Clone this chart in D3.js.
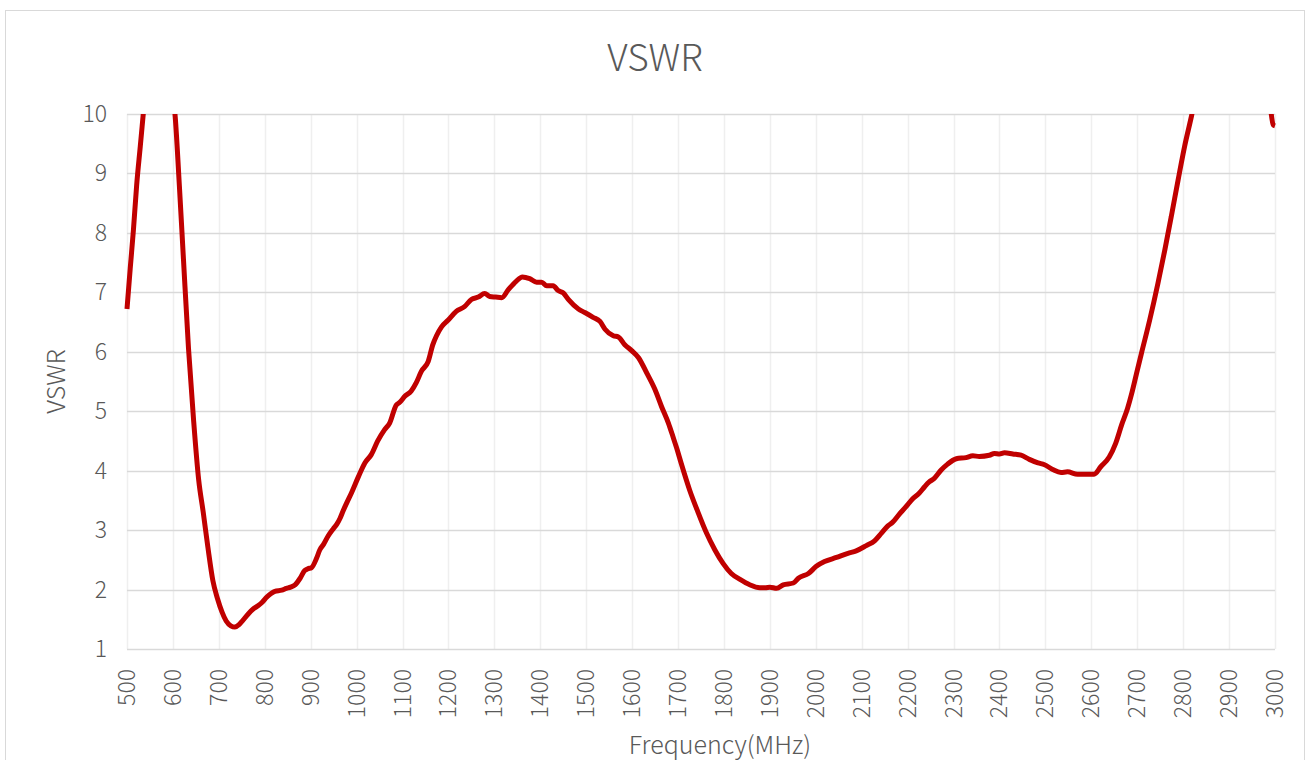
<!DOCTYPE html>
<html lang="en">
	<head>
		<meta charset="utf-8">
		<title>VSWR</title>
		<script type="text/javascript" src="https://cdn.jsdelivr.net/npm/d3@7"></script>
		<style type="text/css">
			body { margin: 0; background: #fff; }
			text { font-family: "Noto Sans CJK SC", "Liberation Sans", sans-serif; font-weight: 300; fill: #595959; }
		</style>
	</head>
	<body>
		<script type="text/javascript">

			//Data (values above 10 are clipped by the axis)
			var freq = [500, 507, 514, 521, 529, 536, 545, 560, 575, 590, 600, 605, 614, 623, 634, 645, 656, 666, 676, 687,
						697, 707, 716, 726, 735, 744, 750, 764, 776, 786, 795, 804, 813, 822, 837, 847, 856, 866, 877, 887,
						894, 902, 913, 920, 928, 938, 949, 957, 964, 971, 978, 989, 1004, 1018, 1032, 1046, 1061, 1072, 1086, 1094,
						1105, 1119, 1130, 1141, 1156, 1166, 1174, 1185, 1199, 1217, 1235, 1250, 1265, 1279, 1290, 1303, 1316, 1330, 1348, 1361,
						1377, 1392, 1403, 1414, 1428, 1439, 1450, 1461, 1483, 1497, 1515, 1530, 1541, 1559, 1570, 1584, 1599, 1614, 1632, 1650,
						1664, 1679, 1689, 1697, 1707, 1725, 1743, 1762, 1780, 1798, 1816, 1835, 1856, 1878, 1890, 1900, 1915, 1929, 1951, 1962,
						1984, 2001, 2019, 2045, 2070, 2088, 2110, 2128, 2143, 2157, 2167, 2182, 2196, 2210, 2225, 2237, 2247, 2258, 2273, 2287,
						2306, 2327, 2342, 2356, 2378, 2389, 2400, 2411, 2429, 2447, 2465, 2484, 2498, 2516, 2534, 2548, 2570, 2588, 2606, 2621,
						2639, 2653, 2666, 2679, 2688, 2698, 2709, 2727, 2745, 2760, 2774, 2789, 2803, 2818, 2830, 2860, 2900, 2940, 2970, 2990,
						2996, 3000];
			var vswr = [6.72, 7.4, 8.05, 8.8, 9.46, 10.05, 10.8, 11.6, 11.8, 11.3, 10.35, 9.95, 8.8, 7.55, 6.05, 4.85, 3.85, 3.3, 2.72, 2.15,
						1.85, 1.62, 1.47, 1.39, 1.37, 1.41, 1.46, 1.59, 1.68, 1.73, 1.79, 1.87, 1.93, 1.97, 1.99, 2.02, 2.04, 2.08, 2.19, 2.32,
						2.35, 2.37, 2.53, 2.67, 2.76, 2.9, 3.02, 3.1, 3.2, 3.33, 3.45, 3.63, 3.9, 4.13, 4.27, 4.5, 4.69, 4.8, 5.1, 5.15,
						5.25, 5.34, 5.48, 5.67, 5.84, 6.12, 6.27, 6.42, 6.53, 6.68, 6.76, 6.88, 6.92, 6.98, 6.93, 6.92, 6.91, 7.04, 7.19, 7.26,
						7.23, 7.17, 7.17, 7.11, 7.11, 7.03, 6.99, 6.88, 6.72, 6.66, 6.58, 6.51, 6.38, 6.27, 6.25, 6.12, 6.02, 5.9, 5.64, 5.36,
						5.08, 4.8, 4.57, 4.38, 4.12, 3.68, 3.31, 2.95, 2.67, 2.44, 2.27, 2.17, 2.08, 2.03, 2.03, 2.04, 2.02, 2.08, 2.11, 2.19,
						2.27, 2.39, 2.47, 2.54, 2.61, 2.65, 2.74, 2.82, 2.95, 3.07, 3.13, 3.27, 3.39, 3.52, 3.62, 3.73, 3.81, 3.87, 4.01, 4.11,
						4.2, 4.22, 4.25, 4.24, 4.26, 4.29, 4.28, 4.3, 4.28, 4.26, 4.19, 4.13, 4.1, 4.02, 3.97, 3.98, 3.94, 3.94, 3.94, 4.07,
						4.23, 4.46, 4.77, 5.05, 5.3, 5.62, 5.97, 6.53, 7.15, 7.71, 8.27, 8.89, 9.45, 9.96, 10.4, 11.1, 11.5, 11.4, 10.9, 10.1,
						9.82, 9.8];
			var xTicks = d3.range(500, 3001, 100);
			var yTicks = [1, 2, 3, 4, 5, 6, 7, 8, 9, 10];

			var dataset = freq.map(function(f, i) { return { f: f, v: vswr[i] }; });

			//Width and height
			var w = 1307;
			var h = 760;
			var plotLeft = 127, plotRight = 1275, plotTop = 114, plotBottom = 649;

			var xScale = d3.scaleLinear()
						.domain([500, 3000])
						.range([plotLeft, plotRight]);

			var yScale = d3.scaleLinear()
						.domain([1, 10])
						.range([plotBottom, plotTop]);

			//Create SVG element
			var svg = d3.select("body")
						.append("svg")
						.attr("width", w)
						.attr("height", h);

			//Chart frame
			svg.append("rect")
			   .attr("x", 5.5)
			   .attr("y", 10.5)
			   .attr("width", 1299)
			   .attr("height", 760)
			   .attr("fill", "white")
			   .attr("stroke", "#d9d9d9");

			//Vertical gridlines
			svg.append("g")
			   .selectAll("line")
			   .data(xTicks)
			   .enter()
			   .append("line")
			   .attr("x1", function(d) { return Math.round(xScale(d)) + 0.5; })
			   .attr("x2", function(d) { return Math.round(xScale(d)) + 0.5; })
			   .attr("y1", plotTop)
			   .attr("y2", plotBottom)
			   .attr("stroke", "#efefef")
			   .attr("stroke-width", 1.5);

			//Horizontal gridlines
			svg.append("g")
			   .selectAll("line")
			   .data(yTicks)
			   .enter()
			   .append("line")
			   .attr("x1", plotLeft)
			   .attr("x2", plotRight)
			   .attr("y1", function(d) { return Math.round(yScale(d)) + 0.5; })
			   .attr("y2", function(d) { return Math.round(yScale(d)) + 0.5; })
			   .attr("stroke", "#d9d9d9")
			   .attr("stroke-width", 1.5);

			//Y tick labels
			svg.append("g")
			   .selectAll("text")
			   .data(yTicks)
			   .enter()
			   .append("text")
			   .text(function(d) { return d; })
			   .attr("x", 107)
			   .attr("y", function(d) { return yScale(d) + 8; })
			   .attr("text-anchor", "end")
			   .attr("font-size", "23px");

			//X tick labels (rotated)
			svg.append("g")
			   .selectAll("text")
			   .data(xTicks)
			   .enter()
			   .append("text")
			   .text(function(d) { return d; })
			   .attr("text-anchor", "end")
			   .attr("font-size", "23px")
			   .attr("transform", function(d) {
			   		return "translate(" + (xScale(d) + 8) + ",669) rotate(-90)";
			   });

			//Clip to the plot area
			svg.append("clipPath")
			   .attr("id", "plot")
			   .append("rect")
			   .attr("x", plotLeft - 3)
			   .attr("y", plotTop)
			   .attr("width", plotRight - plotLeft + 6)
			   .attr("height", plotBottom - plotTop);

			var line = d3.line()
						.x(function(d) { return xScale(d.f); })
						.y(function(d) { return yScale(d.v); })
						.curve(d3.curveMonotoneX);

			svg.append("path")
			   .datum(dataset)
			   .attr("clip-path", "url(#plot)")
			   .attr("d", line)
			   .attr("fill", "none")
			   .attr("stroke", "#c00000")
			   .attr("stroke-width", 5)
			   .attr("stroke-linejoin", "round");

			//Titles
			svg.append("text")
			   .text("VSWR")
			   .attr("x", 655)
			   .attr("y", 71)
			   .attr("text-anchor", "middle")
			   .attr("font-size", "37px");

			svg.append("text")
			   .text("VSWR")
			   .attr("text-anchor", "middle")
			   .attr("font-size", "25px")
			   .attr("transform", "translate(65," + ((plotTop + plotBottom) / 2) + ") rotate(-90)");

			svg.append("text")
			   .text("Frequency(MHz)")
			   .attr("x", 720)
			   .attr("y", 754)
			   .attr("text-anchor", "middle")
			   .attr("font-size", "25px");

		</script>
	</body>
</html>
